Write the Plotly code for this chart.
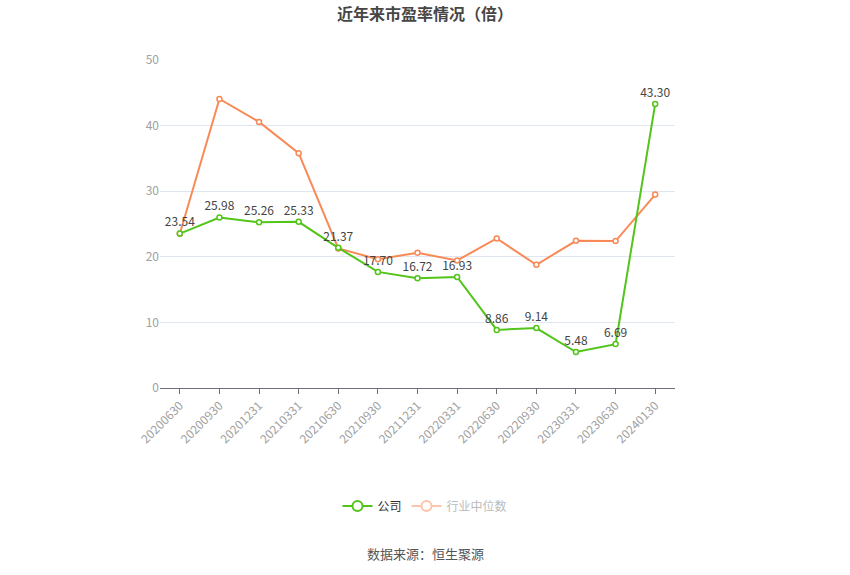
import plotly.graph_objects as go

categories = ["20200630", "20200930", "20201231", "20210331", "20210630", "20210930",
              "20211231", "20220331", "20220630", "20220930", "20230331", "20230630", "20240130"]
company = [23.54, 25.98, 25.26, 25.33, 21.37, 17.70, 16.72, 16.93, 8.86, 9.14, 5.48, 6.69, 43.30]
industry = [23.5, 44.06, 40.56, 35.79, 21.27, 19.64, 20.61, 19.44, 22.79, 18.78, 22.44, 22.39, 29.49]
company_labels = [f"{v:.2f}" for v in company]

GREEN = "#52c41a"
ORANGE = "#f98a57"
FONT = "Noto Sans CJK SC"

W, H = 850, 575
ML, MT = 160, 60
PW, PH = 515, 328

fig = go.Figure()

fig.add_trace(go.Scatter(
    x=categories, y=industry, mode="lines+markers", showlegend=False,
    line=dict(color=ORANGE, width=2),
    marker=dict(symbol="circle", size=5, color="white", line=dict(color=ORANGE, width=1.5)),
    hoverinfo="skip",
))
fig.add_trace(go.Scatter(
    x=categories, y=company, mode="lines+markers+text", showlegend=False,
    text=company_labels, textposition="top center",
    textfont=dict(family=FONT, size=12, color="#444444"),
    line=dict(color=GREEN, width=2),
    marker=dict(symbol="circle", size=5, color="white", line=dict(color=GREEN, width=1.5)),
    hoverinfo="skip",
))

# legend-only entries
fig.add_trace(go.Scatter(
    x=[None], y=[None], mode="lines+markers", name="公司",
    line=dict(color=GREEN, width=2),
    marker=dict(symbol="circle", size=10, color="white", line=dict(color=GREEN, width=2)),
))
fig.add_trace(go.Scatter(
    x=[None], y=[None], mode="lines+markers",
    name="<span style='color:#bbbbbb'>行业中位数</span>",
    line=dict(color="#fcc4aa", width=2),
    marker=dict(symbol="circle", size=10, color="white", line=dict(color="#fcc4aa", width=2)),
))

fig.update_layout(
    width=W, height=H,
    margin=dict(l=ML, r=W - ML - PW, t=MT, b=H - MT - PH, pad=0),
    paper_bgcolor="white", plot_bgcolor="white",
    font=dict(family=FONT, size=12, color="#333333"),
    title=dict(text="<b>近年来市盈率情况（倍）</b>", x=0.5, xanchor="center",
               y=1 - 14 / H, yanchor="middle", yref="container",
               font=dict(family=FONT, size=16, color="#464646")),
    xaxis=dict(
        type="category", range=[-0.5, 12.5], tickangle=-45,
        showgrid=False, showline=True, linecolor="#6e7079", linewidth=1,
        ticks="outside", ticklen=5, tickcolor="#6e7079",
        tickfont=dict(family=FONT, size=12, color="#a0a0a0"),
        fixedrange=True,
    ),
    yaxis=dict(
        range=[0, 50], dtick=10, showgrid=True, gridcolor="#e0e6f1", gridwidth=1,
        zeroline=False, showline=False, ticks="",
        tickfont=dict(family=FONT, size=12, color="#a0a0a0"),
        fixedrange=True,
    ),
    legend=dict(orientation="h", x=(425 - ML) / PW, xanchor="center", y=(388 - 506) / PH,
                yanchor="middle", font=dict(family=FONT, size=12, color="#333333"),
                itemwidth=30, bgcolor="rgba(0,0,0,0)"),
    annotations=[dict(text="数据来源：恒生聚源", x=(425 - ML) / PW, xref="paper",
                      y=(388 - 553) / PH, yref="paper", yanchor="middle",
                      showarrow=False, font=dict(family=FONT, size=13, color="#555555"))],
)

fig.write_html("out.html", config={"displayModeBar": False},
               post_script="document.body.style.margin='0';document.body.style.padding='0';")
